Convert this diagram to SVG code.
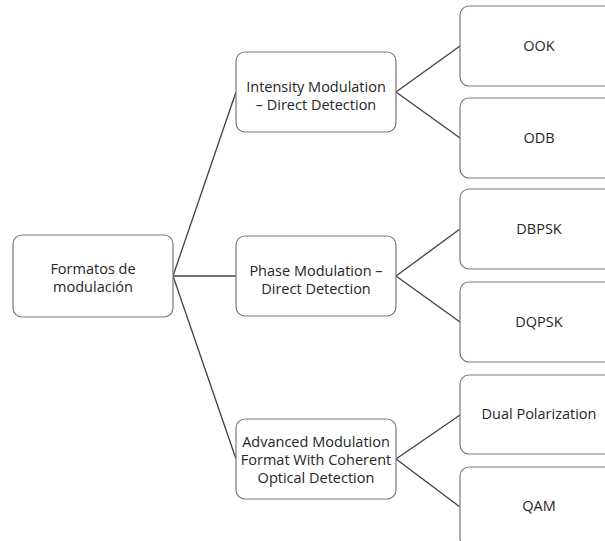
<svg xmlns="http://www.w3.org/2000/svg" width="605" height="541" viewBox="0 0 605 541">
<style>
.box{fill:#fff;stroke:#7a7a7a;stroke-width:1.2}
.t{font-family:"Open Sans","Liberation Sans",sans-serif;font-size:14.5px;fill:#262626;text-anchor:middle}
.c{stroke:#404040;stroke-width:1.3;fill:none}
</style>
<rect width="605" height="541" fill="#fff"/>
<g id="connectors">
<line class="c" x1="173" y1="276" x2="236" y2="92"/>
<line class="c" x1="173" y1="276" x2="236" y2="276"/>
<line class="c" x1="173" y1="276" x2="236" y2="459"/>
<line class="c" x1="396" y1="92" x2="460" y2="46"/>
<line class="c" x1="396" y1="92" x2="460" y2="138"/>
<line class="c" x1="396" y1="276" x2="460" y2="229"/>
<line class="c" x1="396" y1="276" x2="460" y2="322"/>
<line class="c" x1="396" y1="459" x2="460" y2="415"/>
<line class="c" x1="396" y1="459" x2="460" y2="507"/>
</g>
<g id="root">
<rect class="box" x="13" y="235" width="160" height="82" rx="9"/>
<text class="t" x="93" y="274">Formatos de</text>
<text class="t" x="93" y="292">modulación</text>
</g>
<g id="imdd">
<rect class="box" x="236" y="52" width="160" height="80" rx="9"/>
<text class="t" x="316" y="92">Intensity Modulation</text>
<text class="t" x="316" y="110">– Direct Detection</text>
</g>
<g id="pmdd">
<rect class="box" x="236" y="236" width="160" height="80" rx="9"/>
<text class="t" x="316" y="276">Phase Modulation –</text>
<text class="t" x="316" y="294">Direct Detection</text>
</g>
<g id="amf">
<rect class="box" x="236" y="419" width="160" height="80" rx="9"/>
<text class="t" x="316" y="447">Advanced Modulation</text>
<text class="t" x="316" y="465">Format With Coherent</text>
<text class="t" x="316" y="483">Optical Detection</text>
</g>
<g id="ook">
<rect class="box" x="460" y="6" width="158" height="80" rx="9"/>
<text class="t" x="539" y="51">OOK</text>
</g>
<g id="odb">
<rect class="box" x="460" y="98" width="158" height="80" rx="9"/>
<text class="t" x="539" y="143">ODB</text>
</g>
<g id="dbpsk">
<rect class="box" x="460" y="189" width="158" height="80" rx="9"/>
<text class="t" x="539" y="234">DBPSK</text>
</g>
<g id="dqpsk">
<rect class="box" x="460" y="282" width="158" height="80" rx="9"/>
<text class="t" x="539" y="327">DQPSK</text>
</g>
<g id="dualpol">
<rect class="box" x="460" y="375" width="158" height="79" rx="9"/>
<text class="t" x="539" y="419">Dual Polarization</text>
</g>
<g id="qam">
<rect class="box" x="460" y="467" width="158" height="80" rx="9"/>
<text class="t" x="539" y="511">QAM</text>
</g>
</svg>
